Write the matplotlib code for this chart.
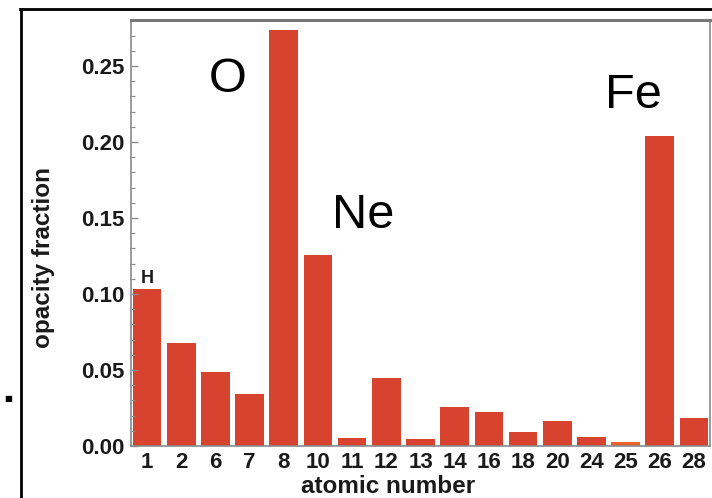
import matplotlib
matplotlib.use("Agg")
import matplotlib.pyplot as plt
from matplotlib.lines import Line2D
from matplotlib.ticker import MultipleLocator, FormatStrFormatter
import numpy as np

# opacity contribution per element
atomic_numbers = ["1", "2", "6", "7", "8", "10", "11", "12", "13",
                  "14", "16", "18", "20", "24", "25", "26", "28"]
opacity_fraction = [0.103, 0.068, 0.049, 0.034, 0.274, 0.126, 0.005, 0.045,
                    0.0046, 0.0257, 0.0224, 0.0092, 0.0165, 0.006, 0.0028,
                    0.204, 0.0184]

# element names and where they sit (x offset in bars, y in data units)
element_names = ["H", "O", "Ne", "Fe"]
element_keys = ["1", "8", "10", "26"]
name_dx = [0.0, -1.63, 1.32, -0.78]
name_y = [0.110, 0.2412, 0.1516, 0.2306]

BAR = "#d8432f"
AXIS_GRAY = "#8a8a8a"
TEXT = "#1a1a1a"

plt.rcParams["font.family"] = ["Liberation Sans", "DejaVu Sans"]

fig = plt.figure(figsize=(7.12, 4.98), dpi=100)
ax = fig.add_axes([131 / 712, 1 - 446 / 498, (710 - 131) / 712, (446 - 20) / 498])

x = np.arange(len(atomic_numbers))
colors = [BAR] * len(x)
colors[atomic_numbers.index("25")] = "#e8602a"
ax.bar(x, opacity_fraction, width=0.84, color=colors, edgecolor="none")

ax.set_xlim(-0.47, 16.47)
ax.set_ylim(0, 0.2803)

ax.set_xticks(x)
ax.set_xticklabels(atomic_numbers)
ax.yaxis.set_major_locator(MultipleLocator(0.05))
ax.yaxis.set_minor_locator(MultipleLocator(0.01))
ax.yaxis.set_major_formatter(FormatStrFormatter("%.2f"))

ax.tick_params(axis="x", length=0, pad=4, labelsize=16)
ax.tick_params(axis="y", which="major", direction="in", length=5, width=1,
               color=AXIS_GRAY, labelsize=16, pad=5)
ax.tick_params(axis="y", which="minor", direction="in", length=3, width=0.8,
               color=AXIS_GRAY)
for lab in ax.get_xticklabels() + ax.get_yticklabels():
    lab.set_fontweight("bold")
    lab.set_color(TEXT)

for side in ["left", "bottom", "right"]:
    ax.spines[side].set_color(AXIS_GRAY)
    ax.spines[side].set_linewidth(1.2)
ax.spines["top"].set_color("#777777")
ax.spines["top"].set_linewidth(2.2)

fig.text(388 / 712, 1 - 486 / 498, "atomic number", ha="center", va="center",
         fontsize=17.5, fontweight="bold", color=TEXT)
fig.text(44 / 712, 1 - 258 / 498, "opacity fraction", ha="center", va="center",
         rotation=90, fontsize=17.5, fontweight="bold", color=TEXT)

for name, key, dx, y in zip(element_names, element_keys, name_dx, name_y):
    i = atomic_numbers.index(key)
    if name == "H":
        ax.text(i + dx, y, name, ha="center", va="center",
                fontsize=13, fontweight="bold", color=TEXT)
    else:
        ax.text(i + dx, y, name, ha="center", va="center", fontsize=35)

# surrounding frame lines
fig.add_artist(Line2D([20 / 712, 1.0], [1 - 9 / 498, 1 - 9 / 498],
                      color="black", linewidth=2, transform=fig.transFigure))
fig.add_artist(Line2D([21 / 712, 21 / 712], [0, 1 - 9 / 498],
                      color="black", linewidth=2, transform=fig.transFigure))
fig.text(8 / 712, 1 - 398 / 498, "■", ha="center", va="center", fontsize=6,
         family="DejaVu Sans")

fig.savefig("out.png", dpi=100)
